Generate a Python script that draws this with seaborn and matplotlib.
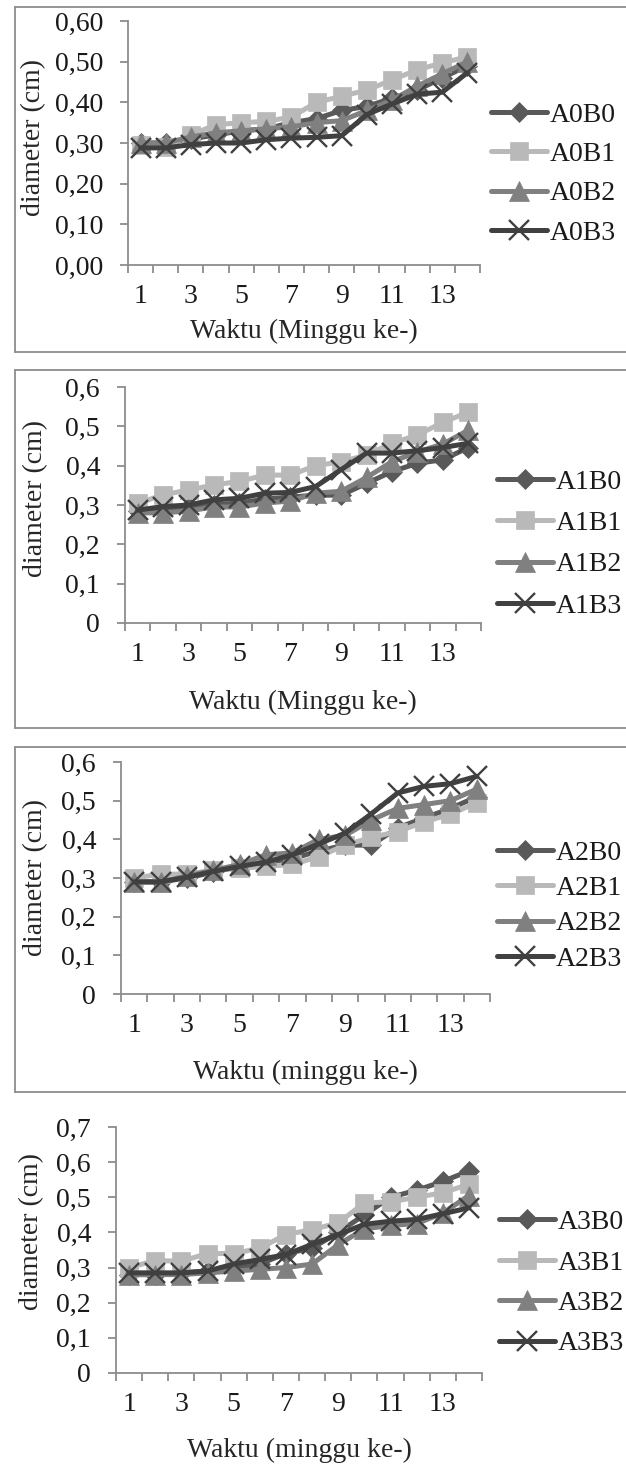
import matplotlib.pyplot as plt
import pandas as pd
import seaborn as sns
from matplotlib.lines import Line2D

W, H = 626, 1466

weeks = list(range(1, 15))

# panel 1
a0b0 = [0.30, 0.30, 0.31, 0.32, 0.33, 0.335, 0.35, 0.36, 0.38, 0.39, 0.41, 0.43, 0.46, 0.49]
a0b1 = [0.295, 0.29, 0.32, 0.345, 0.35, 0.353, 0.364, 0.40, 0.415, 0.43, 0.455, 0.48, 0.497, 0.512]
a0b2 = [0.30, 0.30, 0.315, 0.325, 0.33, 0.335, 0.34, 0.35, 0.355, 0.38, 0.405, 0.44, 0.47, 0.50]
a0b3 = [0.288, 0.288, 0.296, 0.30, 0.30, 0.308, 0.312, 0.314, 0.318, 0.37, 0.396, 0.42, 0.425, 0.473]

# panel 2
a1b0 = [0.285, 0.29, 0.295, 0.30, 0.305, 0.315, 0.32, 0.325, 0.325, 0.355, 0.385, 0.406, 0.415, 0.446]
a1b1 = [0.304, 0.326, 0.338, 0.351, 0.36, 0.376, 0.376, 0.40, 0.41, 0.427, 0.457, 0.478, 0.51, 0.536]
a1b2 = [0.28, 0.28, 0.285, 0.295, 0.295, 0.305, 0.31, 0.33, 0.335, 0.37, 0.41, 0.435, 0.455, 0.49]
a1b3 = [0.287, 0.296, 0.30, 0.313, 0.317, 0.33, 0.332, 0.347, 0.39, 0.432, 0.432, 0.438, 0.446, 0.457]

# panel 3
a2b0 = [0.29, 0.29, 0.30, 0.315, 0.33, 0.34, 0.35, 0.37, 0.385, 0.385, 0.43, 0.455, 0.48, 0.51]
a2b1 = [0.30, 0.31, 0.31, 0.32, 0.325, 0.33, 0.335, 0.355, 0.385, 0.405, 0.42, 0.445, 0.465, 0.495]
a2b2 = [0.29, 0.29, 0.305, 0.32, 0.335, 0.36, 0.365, 0.40, 0.41, 0.45, 0.48, 0.49, 0.50, 0.53]
a2b3 = [0.29, 0.29, 0.302, 0.317, 0.33, 0.341, 0.36, 0.388, 0.416, 0.466, 0.52, 0.537, 0.544, 0.563]

# panel 4
a3b0 = [0.28, 0.28, 0.285, 0.29, 0.30, 0.31, 0.34, 0.355, 0.40, 0.45, 0.50, 0.52, 0.545, 0.575]
a3b1 = [0.30, 0.32, 0.318, 0.34, 0.34, 0.355, 0.394, 0.408, 0.427, 0.484, 0.487, 0.50, 0.513, 0.537]
a3b2 = [0.28, 0.28, 0.28, 0.285, 0.29, 0.295, 0.30, 0.31, 0.365, 0.41, 0.42, 0.425, 0.455, 0.505]
a3b3 = [0.285, 0.285, 0.285, 0.29, 0.31, 0.323, 0.337, 0.366, 0.394, 0.423, 0.432, 0.437, 0.453, 0.47]

colors = {'B0': '#595959', 'B1': '#b9b9b9', 'B2': '#808080', 'B3': '#404040'}
markers = {'B0': 'D', 'B1': 's', 'B2': '^', 'B3': 'x'}
msizes = {'B0': 10, 'B1': 13, 'B2': 14, 'B3': 14}
axis_col = '#8c8c8c'
fs = 20


def fig_xy(x, y):
    return x / W, 1 - y / H


def tick_text(v, two_dec):
    if two_dec:
        return f'{v:.2f}'.replace('.', ',')
    if v == 0:
        return '0'
    return f'{v:.1f}'.replace('.', ',')


def frame(fig, left, top, bottom):
    kw = dict(color=axis_col, lw=1.3, transform=fig.transFigure)
    fig.add_artist(Line2D([left / W, 1], [1 - top / H] * 2, **kw))
    fig.add_artist(Line2D([left / W, 1], [1 - bottom / H] * 2, **kw))
    fig.add_artist(Line2D([left / W] * 2, [1 - top / H, 1 - bottom / H], **kw))


def draw_panel(fig, box, prefix, series, ymax, two_dec, xlabel, xlab_off, ylab_xy,
               leg_x, leg_y, leg_space):
    left, right, top, bottom = box
    ax = fig.add_axes([left / W, 1 - bottom / H, (right - left) / W, (bottom - top) / H])

    names = [prefix + k for k in ['B0', 'B1', 'B2', 'B3']]
    rows = []
    for name, vals in zip(names, series):
        for w, v in zip(weeks, vals):
            rows.append({'Minggu': w, 'diameter': v, 'Perlakuan': name})
    df = pd.DataFrame(rows)

    # seaborn refuses to mix filled and line markers, so the x is set afterwards
    sns.lineplot(data=df, x='Minggu', y='diameter', hue='Perlakuan', style='Perlakuan',
                 palette={n: colors[n[-2:]] for n in names},
                 markers={n: ('o' if markers[n[-2:]] == 'x' else markers[n[-2:]]) for n in names},
                 dashes=False, linewidth=3.6, errorbar=None, legend=False, ax=ax)

    for line, name in zip(ax.lines, names):
        key = name[-2:]
        line.set_marker(markers[key])
        line.set_markersize(msizes[key])
        line.set_markeredgecolor(colors[key])
        line.set_markeredgewidth(1.7 if key == 'B3' else 0.5)
        line.set_label(name)

    ax.set_xlim(0.5, 14.5)
    ax.set_ylim(0, ymax)
    yt = [i / 10 for i in range(int(round(ymax * 10)) + 1)]
    ax.set_yticks(yt)
    ax.set_yticklabels([tick_text(v, two_dec) for v in yt])
    ax.set_xticks([1, 3, 5, 7, 9, 11, 13])
    ax.set_xticks([i + 0.5 for i in range(0, 15)], minor=True)
    ax.tick_params(axis='x', which='major', bottom=True, length=0, pad=14, labelsize=fs)
    ax.tick_params(axis='x', which='minor', bottom=True, length=6, width=1.3, color=axis_col)
    ax.tick_params(axis='y', left=True, length=6, width=1.3, color=axis_col, pad=12, labelsize=fs)
    for s in ['top', 'right']:
        ax.spines[s].set_visible(False)
    for s in ['left', 'bottom']:
        ax.spines[s].set_color(axis_col)
        ax.spines[s].set_linewidth(1.3)

    ax.set_xlabel(xlabel, fontsize=fs)
    ax.xaxis.set_label_coords(*fig_xy((left + right) / 2, bottom + xlab_off),
                              transform=fig.transFigure)
    ax.xaxis.label.set_va('center')
    ax.set_ylabel('diameter (cm)', fontsize=fs)
    ax.yaxis.set_label_coords(*fig_xy(*ylab_xy), transform=fig.transFigure)
    ax.yaxis.label.set_va('center')
    ax.yaxis.label.set_rotation_mode('anchor')

    ax.legend(handles=ax.lines[:4], labels=names, loc='center left',
              bbox_to_anchor=fig_xy(leg_x, leg_y), bbox_transform=fig.transFigure,
              frameon=False, fontsize=fs, handlelength=2.0, handletextpad=0.12,
              labelspacing=(leg_space - 25) / 27.8, borderpad=0, borderaxespad=0)
    return ax


sns.set_style('white')
plt.rcParams['font.family'] = ['Liberation Serif', 'DejaVu Serif']
plt.rcParams['text.color'] = '#1a1a1a'
plt.rcParams['xtick.color'] = '#1a1a1a'
plt.rcParams['ytick.color'] = '#1a1a1a'

fig = plt.figure(figsize=(W / 100, H / 100), dpi=100)

frame(fig, 15, 7, 352)
frame(fig, 15, 370, 728)
frame(fig, 15, 747, 1092)

draw_panel(fig, (128, 480, 21, 265), 'A0', [a0b0, a0b1, a0b2, a0b3], 0.6, True,
           'Waktu (Minggu ke-)', 66, (34, 137), 491, 174, 39)
draw_panel(fig, (125, 481, 387, 623), 'A1', [a1b0, a1b1, a1b2, a1b3], 0.6, False,
           'Waktu (Minggu ke-)', 79, (36, 499), 497, 544, 41)
draw_panel(fig, (121, 490, 762, 994), 'A2', [a2b0, a2b1, a2b2, a2b3], 0.6, False,
           'Waktu (minggu ke-)', 78, (36, 878), 497, 906, 35)
draw_panel(fig, (116, 482, 1127, 1373), 'A3', [a3b0, a3b1, a3b2, a3b3], 0.7, False,
           'Waktu (minggu ke-)', 77, (32, 1232), 499, 1283, 40)

fig.savefig('out.png', dpi=100)
